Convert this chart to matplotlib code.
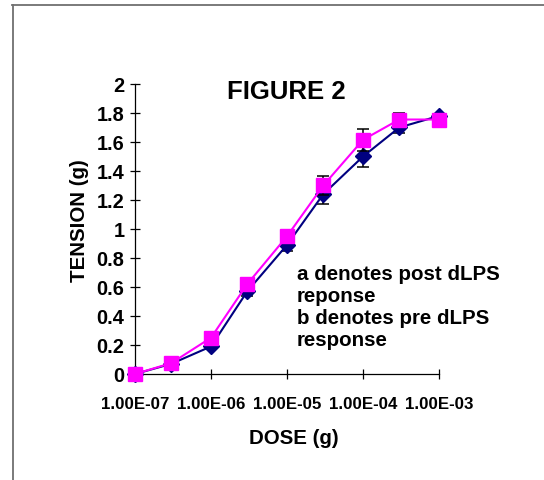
import matplotlib
matplotlib.use("Agg")
import matplotlib.pyplot as plt
from matplotlib.lines import Line2D
from matplotlib.ticker import FixedLocator, NullLocator

plt.rcParams["font.family"] = ["Liberation Sans", "DejaVu Sans"]
plt.rcParams["font.weight"] = "bold"

# dose-response data (g)
dose = [1e-7, 3e-7, 1e-6, 3e-6, 1e-5, 3e-5, 1e-4, 3e-4, 1e-3]
tension_pre = [0.0, 0.07, 0.19, 0.57, 0.89, 1.24, 1.50, 1.70, 1.78]
err_pre = [0.0, 0.01, 0.02, 0.035, 0.045, 0.07, 0.07, 0.035, 0.01]
tension_post = [0.0, 0.075, 0.25, 0.62, 0.95, 1.30, 1.615, 1.755, 1.755]
err_post = [0.0, 0.01, 0.02, 0.03, 0.03, 0.065, 0.075, 0.045, 0.01]

xticks = [1e-7, 1e-6, 1e-5, 1e-4, 1e-3]
xtick_labels = ["1.00E-07", "1.00E-06", "1.00E-05", "1.00E-04", "1.00E-03"]
yticks = [0, 0.2, 0.4, 0.6, 0.8, 1, 1.2, 1.4, 1.6, 1.8, 2]
ytick_labels = ["0", "0.2", "0.4", "0.6", "0.8", "1", "1.2", "1.4", "1.6", "1.8", "2"]

NAVY = "#000080"
PINK = "#FF00FF"

fig = plt.figure(figsize=(5.44, 4.81), dpi=100)
ax = fig.add_axes([0.2482, 0.2204, 0.5588, 0.6029])

ax.errorbar(dose, tension_pre, yerr=err_pre, color=NAVY, lw=1.5,
            marker="D", ms=8.5, mfc=NAVY, mec=NAVY, ecolor="black",
            elinewidth=1.1, capsize=4.5, capthick=1.1, clip_on=False, zorder=3)
ax.errorbar(dose, tension_post, yerr=err_post, color=PINK, lw=1.5,
            marker="s", ms=9.4, mfc=PINK, mec=PINK, ecolor="black",
            elinewidth=1.1, capsize=4.5, capthick=1.1, clip_on=False, zorder=4)

ax.set_xscale("log")
ax.set_xlim(1e-7, 1e-3)
ax.set_ylim(0, 2)
ax.xaxis.set_major_locator(FixedLocator(xticks))
ax.xaxis.set_minor_locator(NullLocator())
ax.set_xticklabels(xtick_labels)
ax.set_yticks(yticks)
ax.set_yticklabels(ytick_labels)

for side in ("top", "right"):
    ax.spines[side].set_visible(False)
for side in ("left", "bottom"):
    ax.spines[side].set_linewidth(0.9)

ax.tick_params(axis="y", direction="inout", length=7.2, width=0.9,
               labelsize=14.4, pad=4)
ax.tick_params(axis="x", direction="inout", length=7.2, width=0.9,
               labelsize=12.2, pad=12)
for lbl in ax.get_xticklabels() + ax.get_yticklabels():
    lbl.set_fontweight("bold")

ax.set_xlabel("DOSE (g)", fontsize=14.8, fontweight="bold", va="center")
ax.xaxis.set_label_coords(0.523, -0.218)
ax.set_ylabel("TENSION (g)", fontsize=14.8, fontweight="bold", va="center")
ax.yaxis.set_label_coords(-0.184, 0.534)

fig.text(0.527, 0.8087, "FIGURE 2", fontsize=18.5, fontweight="bold",
         ha="center", va="center")

fig.text(296.7 / 544, 1 - 265 / 481,
         "a denotes post dLPS\nreponse\nb denotes pre dLPS\nresponse",
         fontsize=14.8, fontweight="bold", ha="left", va="top",
         linespacing=1.2)

# grey frame along top and left edges
fig.add_artist(Line2D([12 / 544, 1], [1 - 5.5 / 481] * 2,
                      transform=fig.transFigure, color="#707070", lw=1.3))
fig.add_artist(Line2D([13 / 544] * 2, [0, 1 - 5.5 / 481],
                      transform=fig.transFigure, color="#707070", lw=1.3))

fig.savefig("out.png", dpi=100)
